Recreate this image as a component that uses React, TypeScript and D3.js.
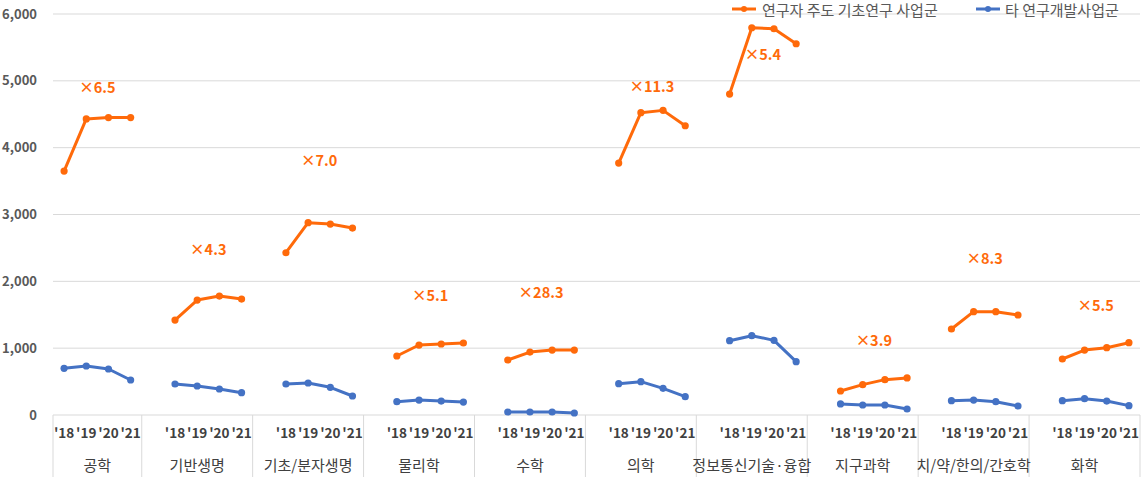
import React from "react";
import * as d3 from "d3";

const groups = ["공학", "기반생명", "기초/분자생명", "물리학", "수학", "의학", "정보통신기술·융합", "지구과학", "치/약/한의/간호학", "화학"];
const years = ["'18", "'19", "'20", "'21"];
const seriesNames = ["연구자 주도 기초연구 사업군", "타 연구개발사업군"];
const orangeValues = [
  [3650, 4430, 4450, 4450],
  [1420, 1720, 1780, 1735],
  [2428, 2877, 2857, 2797],
  [883, 1047, 1062, 1077],
  [823, 942, 972, 972],
  [3770, 4523, 4558, 4328],
  [4802, 5794, 5779, 5555],
  [359, 454, 529, 554],
  [1287, 1546, 1546, 1496],
  [838, 972, 1007, 1082],
];
const blueValues = [
  [698, 733, 688, 524],
  [464, 434, 389, 334],
  [464, 479, 414, 284],
  [199, 224, 209, 194],
  [45, 45, 45, 30],
  [469, 499, 399, 274],
  [1112, 1187, 1117, 798],
  [165, 150, 150, 90],
  [214, 224, 199, 135],
  [214, 244, 209, 140],
];
const ratioLabels = ["×6.5", "×4.3", "×7.0", "×5.1", "×28.3", "×11.3", "×5.4", "×3.9", "×8.3", "×5.5"];
const ratioLabelValues = [4892, 2468, 3800, 1780, 1825, 4907, 5386, 1107, 2334, 1631];
const yTicks = [0, 1000, 2000, 3000, 4000, 5000, 6000];

const ORANGE = "#FF6A0A";
const BLUE = "#4472C4";
const FONT = "'Noto Sans CJK KR', 'Noto Sans', sans-serif";

const W = 1147, H = 485;
const left = 53, right = 1140, top = 14, bottom = 415;
const totalSlots = 4 + (groups.length - 1) * 5;

const slotOf = (g: number, j: number) => (g === 0 ? j : 4 + (g - 1) * 5 + 1 + j);
const groupStart = (g: number) => (g === 0 ? 0 : 4 + (g - 1) * 5);
const groupEnd = (g: number) => (g === 0 ? 4 : 4 + g * 5);

export default function App() {
  const x = d3.scaleLinear().domain([0, totalSlots]).range([left, right]);
  const y = d3.scaleLinear().domain([0, 6000]).range([bottom, top]);
  const px = (g: number, j: number) => x(slotOf(g, j) + 0.5);
  const line = d3.line<[number, number]>().x((d) => d[0]).y((d) => d[1]);

  const dividers = d3.range(groups.length + 1).map((k) => (k === 0 ? 0 : groupEnd(k - 1)));

  const drawSeries = (vals: number[][], color: string, key: string) =>
    vals.map((arr, g) => {
      const pts: [number, number][] = arr.map((v, j) => [px(g, j), y(v)]);
      return (
        <g key={key + g}>
          <path d={line(pts) || ""} fill="none" stroke={color} strokeWidth={3} strokeLinejoin="round" />
          {pts.map((p, j) => (
            <circle key={j} cx={p[0]} cy={p[1]} r={3.6} fill={color} />
          ))}
        </g>
      );
    });

  return (
    <svg width={W} height={H} style={{ position: "absolute", left: 0, top: 0, display: "block", background: "#fff" }} fontFamily={FONT}>
      {yTicks.map((t) => (
        <g key={t}>
          <line x1={left} x2={right} y1={y(t)} y2={y(t)} stroke="#d9d9d9" strokeWidth={1} />
          <text x={37} y={y(t)} dy="0.35em" textAnchor="end" fontSize={13} fontWeight="bold" fill="#595959">
            {d3.format(",")(t)}
          </text>
        </g>
      ))}
      {dividers.map((s, i) => (
        <line key={i} x1={x(s)} x2={x(s)} y1={bottom} y2={477} stroke="#d9d9d9" strokeWidth={1} />
      ))}
      {groups.map((name, g) => (
        <g key={name}>
          {years.map((yr, j) => (
            <text key={yr} x={px(g, j)} y={438} textAnchor="middle" fontSize={13.5} fontWeight="bold" fill="#404040">
              {yr}
            </text>
          ))}
          <text x={(x(groupStart(g)) + x(groupEnd(g))) / 2} y={471} textAnchor="middle" fontSize={15} fill="#404040">
            {name}
          </text>
        </g>
      ))}
      {drawSeries(blueValues, BLUE, "b")}
      {drawSeries(orangeValues, ORANGE, "o")}
      {ratioLabels.map((lab, g) => (
        <text key={lab} x={(px(g, 1) + px(g, 2)) / 2} y={y(ratioLabelValues[g])} dy="0.35em" textAnchor="middle" fontSize={14.5} fontWeight="bold" fill={ORANGE}>
          {lab}
        </text>
      ))}
      <g>
        <line x1={732} x2={756} y1={9} y2={9} stroke={ORANGE} strokeWidth={3} />
        <circle cx={744} cy={9} r={3} fill={ORANGE} />
        <text x={762} y={16} fontSize={15} fill="#595959">{seriesNames[0]}</text>
        <line x1={976} x2={1000} y1={9} y2={9} stroke={BLUE} strokeWidth={3} />
        <circle cx={988} cy={9} r={3} fill={BLUE} />
        <text x={1005} y={16} fontSize={15} fill="#595959">{seriesNames[1]}</text>
      </g>
    </svg>
  );
}
